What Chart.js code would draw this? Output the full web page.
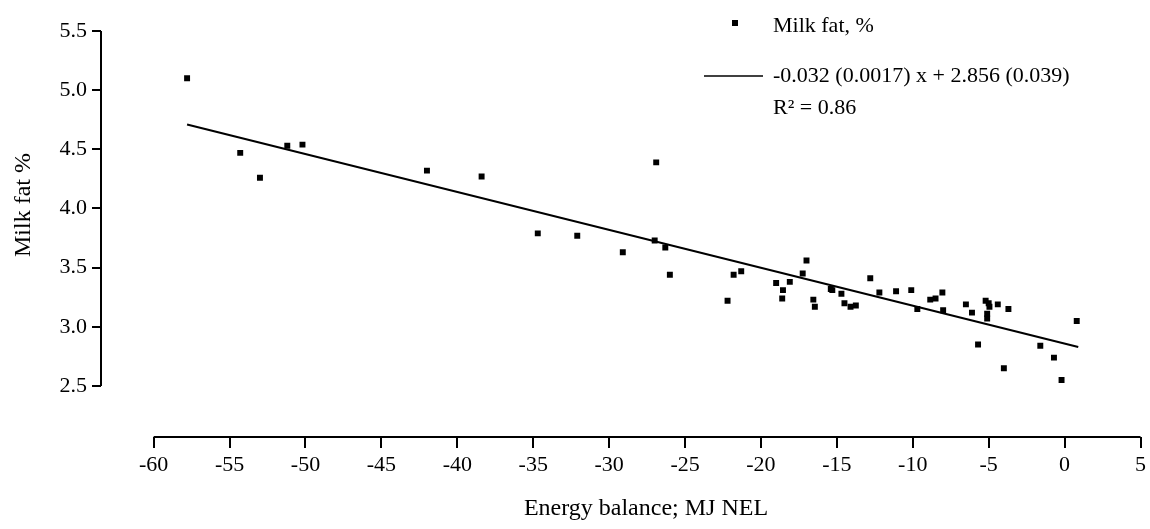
<!DOCTYPE html>
<html>
<head>
<meta charset="utf-8">
<script src="https://cdn.jsdelivr.net/npm/chart.js@4.4.1/dist/chart.umd.min.js"></script>
<style>
  html, body { margin: 0; padding: 0; background: #fff; }
  canvas { display: block; }
</style>
</head>
<body>
<canvas id="grafico" width="1150" height="529"></canvas>
<script>
// Balanço energético x gordura do leite
const energia = [-57.8, -54.3, -53.0, -51.2, -50.2, -42.0, -38.4, -34.7, -32.1, -29.1,
    -26.9, -27.0, -26.3, -26.0, -22.2, -21.8, -21.3, -19.0, -18.55, -18.6,
    -18.1, -17.25, -17.0, -16.55, -16.45, -15.4, -15.3, -14.7, -14.5, -14.1,
    -13.75, -12.8, -12.2, -11.1, -10.1, -9.7, -8.85, -8.5, -8.05, -8.0,
    -6.5, -6.1, -5.7, -5.2, -5.0, -4.95, -5.1, -5.1, -4.4, -4.0,
    -3.7, -1.6, -0.7, -0.2, 0.8];
const gordura = [5.10, 4.47, 4.26, 4.53, 4.54, 4.32, 4.27, 3.79, 3.77, 3.63,
    4.39, 3.73, 3.67, 3.44, 3.22, 3.44, 3.47, 3.37, 3.31, 3.24,
    3.38, 3.45, 3.56, 3.23, 3.17, 3.32, 3.31, 3.28, 3.20, 3.17,
    3.18, 3.41, 3.29, 3.30, 3.31, 3.15, 3.23, 3.24, 3.29, 3.14,
    3.19, 3.12, 2.85, 3.22, 3.20, 3.17, 3.11, 3.07, 3.19, 2.65,
    3.15, 2.84, 2.74, 2.55, 3.05];
const linhaX = [-57.8, 0.9];
const linhaY = [4.71, 2.83];
const ticksX = [-60, -55, -50, -45, -40, -35, -30, -25, -20, -15, -10, -5, 0, 5];
const ticksY = [2.5, 3.0, 3.5, 4.0, 4.5, 5.0, 5.5];

const legendaPontos = 'Milk fat, %';
const legendaLinha = ['-0.032 (0.0017) x + 2.856 (0.039)', 'R\u00B2 = 0.86'];
const tituloX = 'Energy balance; MJ NEL';
const tituloY = 'Milk fat %';

const fonte = '"Liberation Serif", "Times New Roman", serif';

function juntar(xs, ys) {
    return xs.map((x, i) => ({ x: x, y: ys[i] }));
}

// eixos destacados, legenda e títulos
const eixos = {
    id: 'eixos',
    afterDraw(chart) {
        const ctx = chart.ctx;
        const sx = chart.scales.x;
        const sy = chart.scales.y;
        const area = chart.chartArea;
        ctx.save();
        ctx.strokeStyle = '#000';
        ctx.lineWidth = 2;
        ctx.beginPath();
        ctx.moveTo(area.left, sy.getPixelForValue(ticksY[ticksY.length - 1]));
        ctx.lineTo(area.left, sy.getPixelForValue(ticksY[0]));
        ctx.moveTo(sx.getPixelForValue(ticksX[0]), area.bottom);
        ctx.lineTo(sx.getPixelForValue(ticksX[ticksX.length - 1]), area.bottom);
        ctx.stroke();

        ctx.fillStyle = '#000';
        ctx.font = '24px ' + fonte;
        ctx.textAlign = 'center';
        ctx.textBaseline = 'middle';
        ctx.fillText(tituloX, 646, 509);
        ctx.save();
        ctx.translate(24, 205);
        ctx.rotate(-Math.PI / 2);
        ctx.fillText(tituloY, 0, 0);
        ctx.restore();

        // legenda
        ctx.fillRect(732, 20, 6, 6);
        ctx.beginPath();
        ctx.lineWidth = 1.5;
        ctx.moveTo(704, 76);
        ctx.lineTo(763, 76);
        ctx.stroke();
        ctx.font = '22px ' + fonte;
        ctx.textAlign = 'left';
        ctx.fillText(legendaPontos, 773, 26);
        ctx.fillText(legendaLinha[0], 773, 76);
        ctx.fillText(legendaLinha[1], 773, 108);
        ctx.restore();
    }
};

const ctx = document.getElementById('grafico').getContext('2d');
new Chart(ctx, {
    type: 'scatter',
    data: {
        datasets: [{
            label: legendaPontos,
            data: juntar(energia, gordura),
            pointStyle: 'rect',
            pointRadius: 4.2,
            backgroundColor: '#000',
            borderWidth: 0
        }, {
            type: 'line',
            label: 'Regressão',
            data: juntar(linhaX, linhaY),
            borderColor: '#000',
            borderWidth: 2,
            pointRadius: 0,
            fill: false
        }]
    },
    options: {
        responsive: false,
        animation: false,
        devicePixelRatio: 1,
        layout: { padding: { top: 31, right: 8, left: 0, bottom: 0 } },
        plugins: {
            legend: { display: false },
            tooltip: { enabled: false }
        },
        scales: {
            x: {
                type: 'linear',
                min: -63.47,
                max: 5,
                afterFit: (s) => { s.height = 92; },
                afterBuildTicks: (s) => { s.ticks = ticksX.map(v => ({ value: v })); },
                border: { display: false },
                grid: { drawOnChartArea: false, drawTicks: true, tickLength: 11, color: '#000', lineWidth: 2 },
                ticks: { color: '#000', font: { family: fonte, size: 22 }, padding: 4, maxRotation: 0 }
            },
            y: {
                type: 'linear',
                min: 2.069,
                max: 5.5,
                afterFit: (s) => { s.width = 101; },
                afterBuildTicks: (s) => { s.ticks = ticksY.map(v => ({ value: v })); },
                border: { display: false },
                grid: { drawOnChartArea: false, drawTicks: true, tickLength: 9, color: '#000', lineWidth: 2 },
                ticks: { color: '#000', font: { family: fonte, size: 22 }, padding: 5, callback: v => v.toFixed(1) }
            }
        }
    },
    plugins: [eixos]
});
</script>
</body>
</html>
